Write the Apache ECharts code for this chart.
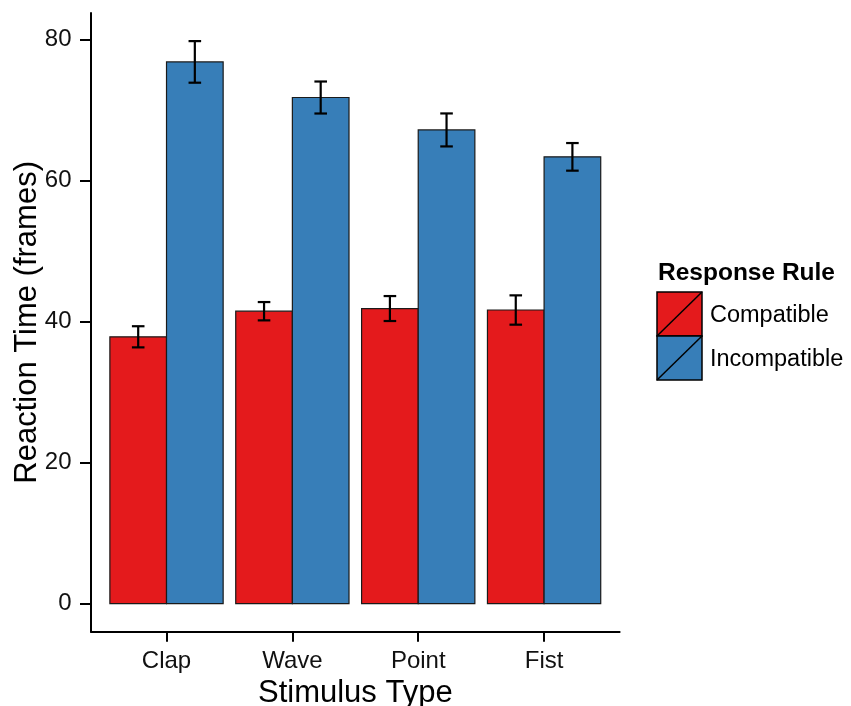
<!DOCTYPE html>
<html>
<head>
<meta charset="utf-8">
<script src="https://cdn.jsdelivr.net/npm/echarts@6/dist/echarts.min.js"></script>
<style>
  html, body { margin: 0; padding: 0; background: #fff; }
  #chart { width: 851px; height: 706px; }
</style>
</head>
<body>
<div id="chart"></div>
<script>
// Mean reaction time (frames) with standard error, by stimulus type and response rule
const stimulusTypes = ['Clap', 'Wave', 'Point', 'Fist'];
const ruleNames = ['Compatible', 'Incompatible'];
const compatibleMean = [37.85, 41.48, 41.86, 41.65];
const compatibleSE = [1.5, 1.3, 1.77, 2.08];
const incompatibleMean = [76.85, 71.8, 67.2, 63.38];
const incompatibleSE = [2.95, 2.27, 2.34, 1.96];
const yTicks = [0, 20, 40, 60, 80];

const ruleColors = ['#E41A1C', '#377EB8'];
const FONT = '"Liberation Sans", Arial, Helvetica, sans-serif';

// dodge layout: each group spans 0.9 of a category, each bar 0.45
const BAR_W = 0.45;
const CAP_W = 0.1;

function rows(means, ses, side) {
  return means.map((m, i) => [i + 1, m, side, m - ses[i], m + ses[i]]);
}
const compatibleRows = rows(compatibleMean, compatibleSE, 0);
const incompatibleRows = rows(incompatibleMean, incompatibleSE, 1);

// y range padded 5% like the usual continuous-scale expansion
const yTop = Math.max(...compatibleRows.concat(incompatibleRows).map(r => r[4]));
const yPad = yTop * 0.05;

function barItem(params, api) {
  const cat = api.value(0), val = api.value(1), side = api.value(2);
  const left = cat + (side ? 0 : -BAR_W);
  const p0 = api.coord([left, val]);
  const p1 = api.coord([left + BAR_W, 0]);
  return {
    type: 'rect',
    shape: { x: p0[0], y: p0[1], width: p1[0] - p0[0], height: p1[1] - p0[1] },
    style: { fill: ruleColors[side], stroke: '#1a1a1a', lineWidth: 1.2 }
  };
}

function errItem(params, api) {
  const cat = api.value(0), side = api.value(2);
  const cx = cat + (side ? BAR_W / 2 : -BAR_W / 2);
  const lo = api.coord([cx, api.value(3)]);
  const hi = api.coord([cx, api.value(4)]);
  const half = (api.coord([cx + CAP_W / 2, 0])[0] - api.coord([cx - CAP_W / 2, 0])[0]) / 2;
  const st = { stroke: '#000', lineWidth: 2.2 };
  return {
    type: 'group',
    children: [
      { type: 'line', shape: { x1: lo[0], y1: lo[1], x2: hi[0], y2: hi[1] }, style: st },
      { type: 'line', shape: { x1: hi[0] - half, y1: hi[1], x2: hi[0] + half, y2: hi[1] }, style: st },
      { type: 'line', shape: { x1: lo[0] - half, y1: lo[1], x2: lo[0] + half, y2: lo[1] }, style: st }
    ]
  };
}

const chart = echarts.init(document.getElementById('chart'), null, { renderer: 'canvas' });

const legendX = 657, legendY = 292, keyW = 45, keyH = 44;
const legendGraphics = [
  {
    type: 'text', left: 658, top: 261,
    style: { text: 'Response Rule', font: 'bold 24.5px ' + FONT, fill: '#000' }
  }
];
ruleNames.forEach((name, i) => {
  const y = legendY + i * keyH;
  legendGraphics.push({
    type: 'rect', shape: { x: legendX, y: y, width: keyW, height: keyH },
    style: { fill: ruleColors[i], stroke: '#000', lineWidth: 1.5 }
  });
  legendGraphics.push({
    type: 'line', shape: { x1: legendX, y1: y + keyH, x2: legendX + keyW, y2: y },
    style: { stroke: '#000', lineWidth: 1.5 }
  });
  legendGraphics.push({
    type: 'text', x: 710, y: y + keyH / 2 + 2,
    style: { text: name, font: '23.5px ' + FONT, fill: '#000', verticalAlign: 'middle' }
  });
});

chart.setOption({
  animation: false,
  backgroundColor: '#fff',
  grid: {
    left: 91, right: 231.4, top: 13, bottom: 74.3,
    containLabel: false, outerBoundsMode: 'none'
  },
  xAxis: {
    type: 'value',
    min: 0.4, max: 4.6,
    name: 'Stimulus Type',
    nameLocation: 'middle',
    nameGap: 46,
    nameMoveOverlap: false,
    nameTextStyle: { fontFamily: FONT, fontSize: 31, color: '#000' },
    axisLine: { show: true, onZero: false, lineStyle: { color: '#000', width: 2 } },
    axisTick: { show: true, length: 10, customValues: [1, 2, 3, 4], lineStyle: { color: '#000', width: 2 } },
    axisLabel: {
      customValues: [1, 2, 3, 4],
      formatter: v => stimulusTypes[Math.round(v) - 1] || '',
      fontFamily: FONT, fontSize: 24, color: '#111', margin: 18
    },
    splitLine: { show: false }
  },
  yAxis: {
    type: 'value',
    min: -yPad, max: yTop + yPad,
    name: 'Reaction Time (frames)',
    nameLocation: 'middle',
    nameGap: 48,
    nameMoveOverlap: false,
    nameTextStyle: { fontFamily: FONT, fontSize: 31, color: '#000' },
    axisLine: { show: true, onZero: false, lineStyle: { color: '#000', width: 2 } },
    axisTick: { show: true, length: 11, customValues: yTicks, lineStyle: { color: '#000', width: 2 } },
    axisLabel: {
      customValues: yTicks,
      fontFamily: FONT, fontSize: 24, color: '#111', margin: 19.5
    },
    splitLine: { show: false }
  },
  series: [
    {
      name: ruleNames[0], type: 'custom', renderItem: barItem,
      encode: { x: 0, y: 1 }, data: compatibleRows, z: 2
    },
    {
      name: ruleNames[1], type: 'custom', renderItem: barItem,
      encode: { x: 0, y: 1 }, data: incompatibleRows, z: 2
    },
    {
      name: ruleNames[0] + ' SE', type: 'custom', renderItem: errItem,
      encode: { x: 0, y: [3, 4] }, data: compatibleRows, z: 3
    },
    {
      name: ruleNames[1] + ' SE', type: 'custom', renderItem: errItem,
      encode: { x: 0, y: [3, 4] }, data: incompatibleRows, z: 3
    }
  ],
  graphic: legendGraphics
});
</script>
</body>
</html>
